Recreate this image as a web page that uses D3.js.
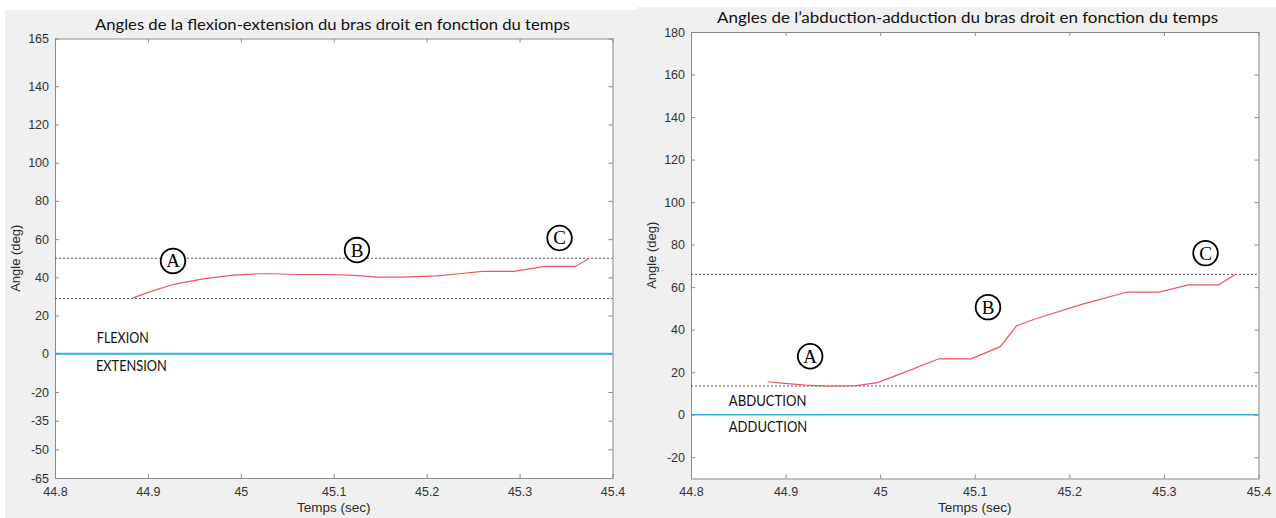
<!DOCTYPE html>
<html><head><meta charset="utf-8">
<script src="https://cdn.jsdelivr.net/npm/d3@7"></script>
<style>body{margin:0;background:#fff}svg{display:block}</style>
</head><body><svg id="c" width="1276" height="518"></svg>
<script>
// ---- data ----
const xTicks = [44.8, 44.9, 45, 45.1, 45.2, 45.3, 45.4];
const leftYTicks = [-65, -50, -35, -20, 0, 20, 40, 60, 80, 100, 120, 140, 165];
const rightYTicks = [-20, 0, 20, 40, 60, 80, 100, 120, 140, 160, 180];
const leftTime  = [44.882, 44.904, 44.929, 44.958, 44.989, 45.019, 45.031, 45.065, 45.096, 45.123, 45.146, 45.173, 45.211, 45.235, 45.260, 45.294, 45.327, 45.360, 45.375];
const leftAngle = [28.9, 32.8, 36.5, 39.1, 41.0, 41.9, 41.9, 41.5, 41.5, 41.0, 40.1, 40.1, 40.8, 41.9, 43.1, 43.1, 45.7, 45.7, 50.0];
const rightTime  = [44.881, 44.899, 44.921, 44.946, 44.975, 44.997, 45.025, 45.062, 45.096, 45.127, 45.144, 45.163, 45.214, 45.261, 45.295, 45.326, 45.358, 45.375];
const rightAngle = [15.5, 14.7, 13.9, 13.4, 13.7, 15.1, 19.8, 26.3, 26.3, 32.0, 41.7, 44.9, 52.0, 57.7, 57.7, 61.1, 61.1, 65.8];
const leftRefs = [50, 28.9];
const rightRefs = [66, 13.5];
const leftMarks = [["A", 44.927, 48.6], ["B", 45.125, 54.3], ["C", 45.343, 60.6]];
const rightMarks = [["A", 44.926, 27.5], ["B", 45.114, 50.6], ["C", 45.344, 76.0]];
const leftZoneLabels = [["FLEXION", 44.845, 5.6, 52], ["EXTENSION", 44.844, -9.0, 71]];
const rightZoneLabels = [["ABDUCTION", 44.840, 4.0, 77.6], ["ADDUCTION", 44.840, -8.3, 78.4]];
const titles = ["Angles de la flexion-extension du bras droit en fonction du temps",
                "Angles de l\u2019abduction-adduction du bras droit en fonction du temps"];

const svg = d3.select("#c");
svg.append("rect").attr("x", 5).attr("y", 10).attr("width", 632).attr("height", 508).attr("fill", "#f0f0f0");
svg.append("rect").attr("x", 637).attr("y", 7).attr("width", 639).attr("height", 511).attr("fill", "#f0f0f0");

const fmt = d => String(d);

function panel(o) {
  const x = d3.scaleLinear().domain([44.8, 45.4]).range([o.x0, o.x1]);
  const y = d3.scaleLinear().domain(o.yDomain).range([o.y1, o.y0]);
  const g = svg.append("g");
  g.append("rect").attr("x", o.x0).attr("y", o.y0).attr("width", o.x1 - o.x0).attr("height", o.y1 - o.y0)
    .attr("fill", "#fff");
  const axStyle = s => {
    s.select(".domain").remove();
    s.selectAll(".tick line").attr("stroke", "#8a8a8a");
    s.selectAll(".tick text").attr("fill", "#333").style("font-family", "Liberation Sans, Arial, sans-serif").style("font-size", "12.5px");
  };
  g.append("g").attr("transform", `translate(0,${o.y1})`)
    .call(d3.axisBottom(x).tickValues(xTicks).tickFormat(fmt).tickSizeInner(-4).tickSizeOuter(0).tickPadding(9))
    .call(axStyle);
  g.append("g").attr("transform", `translate(0,${o.y0})`)
    .call(d3.axisTop(x).tickValues(xTicks).tickFormat("").tickSizeInner(-4).tickSizeOuter(0)).call(axStyle);
  g.append("g").attr("transform", `translate(${o.x0},0)`)
    .call(d3.axisLeft(y).tickValues(o.yTicks).tickFormat(fmt).tickSizeInner(-4).tickSizeOuter(0).tickPadding(6))
    .call(axStyle);
  g.append("g").attr("transform", `translate(${o.x1},0)`)
    .call(d3.axisRight(y).tickValues(o.yTicks).tickFormat("").tickSizeInner(-4).tickSizeOuter(0)).call(axStyle);
  g.selectAll("text").filter(function(){return this.textContent === "";}).remove();
  g.append("rect").attr("x", o.x0 + 0.5).attr("y", o.y0 + 0.5).attr("width", o.x1 - o.x0).attr("height", o.y1 - o.y0)
    .attr("fill", "none").attr("stroke", "#8a8a8a").attr("stroke-width", 1);

  // reference lines
  g.selectAll(".ref").data(o.refs).join("line")
    .attr("x1", o.x0).attr("x2", o.x1).attr("y1", d => y(d)).attr("y2", d => y(d))
    .attr("stroke", "#555").attr("stroke-width", 1).attr("stroke-dasharray", "2,2");
  g.append("line").attr("x1", o.x0 + 1).attr("x2", o.x1).attr("y1", y(0)).attr("y2", y(0))
    .attr("stroke", "#2db3da").attr("stroke-width", o.zeroW);

  // curve
  const pts = o.t.map((t, i) => [t, o.v[i]]);
  g.append("path").datum(pts)
    .attr("d", d3.line().x(d => x(d[0])).y(d => y(d[1])))
    .attr("fill", "none").attr("stroke", "#ee5562").attr("stroke-width", 1.2);

  // zone labels
  g.selectAll(".zl").data(o.zones).join("text")
    .attr("x", d => x(d[1])).attr("y", d => y(d[2]))
    .attr("textLength", d => d[3]).attr("lengthAdjust", "spacingAndGlyphs")
    .style("font-family", "Lato, 'Open Sans', sans-serif").style("font-size", "14.5px").attr("fill", "#111")
    .text(d => d[0]);

  // circled letters
  const m = g.selectAll(".mk").data(o.marks).join("g")
    .attr("transform", d => `translate(${x(d[1])},${y(d[2])})`);
  m.append("circle").attr("r", 12.3).attr("fill", "#fff").attr("stroke", "#000").attr("stroke-width", 1.8);
  m.append("text").attr("text-anchor", "middle").attr("y", 6.5)
    .style("font-family", "'Liberation Serif', 'DejaVu Serif', serif").style("font-size", "19px").attr("fill", "#000")
    .text(d => d[0]);

  // titles & labels
  svg.append("text").attr("x", o.titleX).attr("y", o.titleY).attr("text-anchor", "middle")
    .attr("textLength", o.titleW).attr("lengthAdjust", "spacingAndGlyphs")
    .style("font-family", "Lato, 'Open Sans', sans-serif").style("font-size", "15.5px").attr("fill", "#111")
    .text(o.title);
  svg.append("text").attr("x", (o.x0 + o.x1) / 2).attr("y", 512).attr("text-anchor", "middle")
    .style("font-family", "Liberation Sans, Arial, sans-serif").style("font-size", "13.5px").attr("fill", "#2a2a2a")
    .text("Temps (sec)");
  svg.append("text").attr("transform", `translate(${o.ylabX},${(o.y0 + o.y1) / 2}) rotate(-90)`)
    .attr("text-anchor", "middle")
    .style("font-family", "Liberation Sans, Arial, sans-serif").style("font-size", "13px").attr("fill", "#2a2a2a")
    .text("Angle (deg)");
}

panel({x0: 55, x1: 612.5, y0: 38.5, y1: 478, yDomain: [-65, 165], yTicks: leftYTicks,
  t: leftTime, v: leftAngle, refs: leftRefs, marks: leftMarks, zones: leftZoneLabels, zeroW: 2,
  title: titles[0], titleX: 332.5, titleY: 30, titleW: 475, ylabX: 20});
panel({x0: 691, x1: 1258.5, y0: 32, y1: 478.5, yDomain: [-30, 180], yTicks: rightYTicks,
  t: rightTime, v: rightAngle, refs: rightRefs, marks: rightMarks, zones: rightZoneLabels, zeroW: 1.5,
  title: titles[1], titleX: 967.5, titleY: 23, titleW: 501, ylabX: 656});
</script></body></html>
